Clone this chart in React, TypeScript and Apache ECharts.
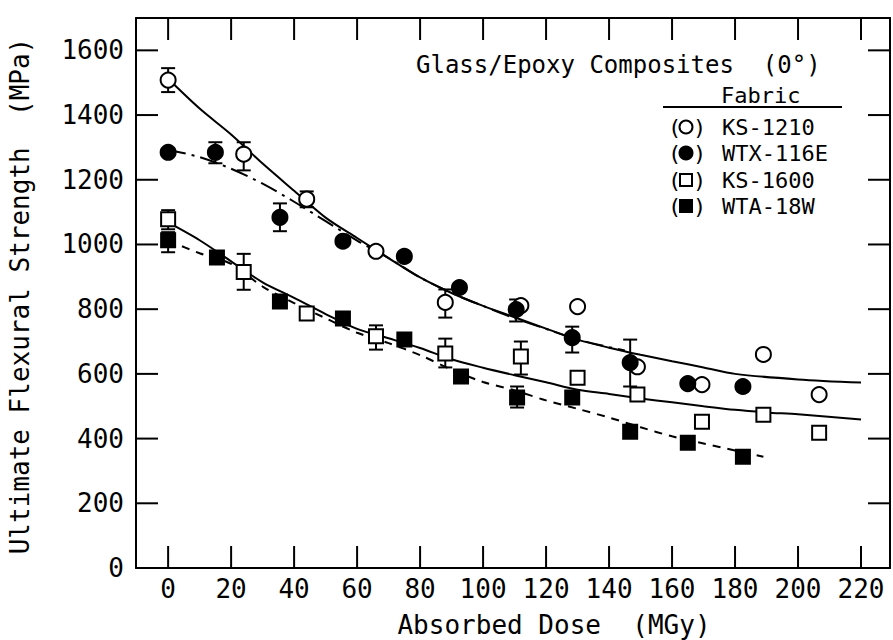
import React, { useEffect, useRef } from "react";
import * as echarts from "echarts";

const FONT = "DejaVu Sans Mono";

const xTicks = [0, 20, 40, 60, 80, 100, 120, 140, 160, 180, 200, 220];
const yTicks = [0, 200, 400, 600, 800, 1000, 1200, 1400, 1600];

// Frame extents (data units)
const xMin = -10.2;
const xMax = 229.2;
const yMin = 0;
const yMax = 1700;

// Measured points [dose, strength]
const ks1210Points = [
  [0, 1508], [24, 1279], [44, 1140], [66, 979], [88, 821], [112, 811],
  [130, 808], [149, 622], [169.5, 567], [189, 660], [206.7, 536],
];
const wtx116ePoints = [
  [0, 1285], [15, 1285], [35.5, 1084], [55.5, 1010], [75, 963], [92.5, 867],
  [110.5, 799], [128.3, 712], [146.7, 635], [165, 570], [182.5, 561],
];
const ks1600Points = [
  [0, 1078], [24, 915], [44, 787], [66, 716], [88, 663], [112, 654],
  [130, 588], [149, 536], [169.5, 452], [189, 474], [206.7, 418],
];
const wta18wPoints = [
  [0, 1013], [15.5, 960], [35.5, 824], [55.5, 771], [75, 706], [93, 592],
  [110.8, 527], [128.3, 527], [146.7, 421], [165, 387], [182.5, 344],
];

// Error bars [dose, low, high]
const ks1210Err = [[0, 1471, 1545], [24, 1229, 1316], [44, 1115, 1164], [88, 774, 861]];
const wtx116eErr = [[15, 1251, 1316], [35.5, 1041, 1127], [110.5, 762, 830], [128.3, 666, 746], [146.7, 561, 706]];
const ks1600Err = [[0, 1047, 1106], [24, 860, 971], [66, 675, 750], [88, 620, 709], [112, 598, 700]];
const wta18wErr = [[0, 976, 1038], [110.8, 496, 561]];

// Fitted curves
const ks1210Curve = [
  [0, 1512], [10, 1420], [20, 1340], [30, 1250], [40, 1166], [50, 1083], [60, 1020],
  [70, 958], [80, 898], [90, 850], [100, 810], [110, 775], [120, 740], [130, 706],
  [140, 681], [150, 659], [160, 639], [170, 620], [180, 600], [200, 583], [220, 573],
];
const wtx116eCurve = [
  [0, 1293], [10, 1270], [20, 1234], [30, 1188], [40, 1132], [50, 1072], [60, 1012],
  [70, 958], [80, 898], [90, 850], [100, 810], [110, 772], [120, 739], [130, 706], [145, 672],
];
const ks1600Curve = [
  [0, 1068], [10, 1013], [20, 948], [30, 883], [40, 835], [50, 785], [60, 739],
  [70, 710], [80, 680], [90, 645], [100, 619], [110, 596], [120, 574], [130, 551],
  [140, 538], [150, 524], [160, 512], [170, 500], [180, 489], [190, 481], [200, 475], [220, 459],
];
const wta18wCurve = [
  [0, 1012], [10, 973], [20, 940], [30, 870], [40, 819], [50, 772], [60, 727],
  [70, 695], [80, 658], [90, 613], [100, 575], [110, 549], [120, 518], [130, 492],
  [140, 465], [150, 435], [160, 407], [170, 385], [180, 363], [189, 344],
];

const legendNames = ["KS-1210", "WTX-116E", "KS-1600", "WTA-18W"];
const titleText = "Glass/Epoxy Composites  (0\u00b0)";
const legendHeader = "Fabric";
const xName = "Absorbed Dose  (MGy)";
const yName = "Ultimate Flexural Strength  (MPa)";

const BLACK = "#000";
const W = 893;
const H = 640;
const TICK_LEN = 22;
const G_LEFT = 136;
const G_RIGHT = 3;
const G_TOP = 18;
const G_BOTTOM = 72;

function errSeries(data: number[][]) {
  return {
    type: "custom",
    data,
    z: 3,
    encode: { x: 0, y: [1, 2] },
    renderItem: (params: any, api: any) => {
      const x = api.value(0);
      const lo = api.coord([x, api.value(1)]);
      const hi = api.coord([x, api.value(2)]);
      const hw = 7;
      return {
        type: "group",
        children: [
          { type: "line", shape: { x1: lo[0], y1: lo[1], x2: hi[0], y2: hi[1] }, style: { stroke: BLACK, lineWidth: 2 } },
          { type: "line", shape: { x1: lo[0] - hw, y1: lo[1], x2: lo[0] + hw, y2: lo[1] }, style: { stroke: BLACK, lineWidth: 2 } },
          { type: "line", shape: { x1: hi[0] - hw, y1: hi[1], x2: hi[0] + hw, y2: hi[1] }, style: { stroke: BLACK, lineWidth: 2 } },
        ],
      };
    },
  };
}

// Inward tick marks on all four frame sides, placed through the axis scales
function tickSeries() {
  const data: number[][] = [];
  xTicks.forEach((v) => data.push([v, yMin, 0]));
  yTicks.forEach((v) => data.push([xMin, v, 1]));
  return {
    type: "custom",
    data,
    z: 20,
    silent: true,
    clip: false,
    encode: { x: 0, y: 1 },
    renderItem: (params: any, api: any) => {
      const kind = api.value(2);
      const st = { stroke: BLACK, lineWidth: 2 };
      if (kind === 0) {
        const v = api.value(0);
        const b = api.coord([v, yMin]);
        const t = api.coord([v, yMax]);
        return {
          type: "group",
          children: [
            { type: "line", shape: { x1: b[0], y1: b[1], x2: b[0], y2: b[1] - TICK_LEN }, style: st },
            { type: "line", shape: { x1: t[0], y1: t[1], x2: t[0], y2: t[1] + TICK_LEN }, style: st },
          ],
        };
      }
      const v = api.value(1);
      const l = api.coord([xMin, v]);
      const r = api.coord([xMax, v]);
      return {
        type: "group",
        children: [
          { type: "line", shape: { x1: l[0], y1: l[1], x2: l[0] + TICK_LEN, y2: l[1] }, style: st },
          { type: "line", shape: { x1: r[0], y1: r[1], x2: r[0] - TICK_LEN, y2: r[1] }, style: st },
        ],
      };
    },
  };
}

function curveSeries(data: number[][], type: any) {
  return {
    type: "line",
    data,
    showSymbol: false,
    smooth: 0.3,
    z: 2,
    lineStyle: { color: BLACK, width: 2, type },
  };
}

function pointSeries(data: number[][], symbol: string, filled: boolean, size: number, z: number) {
  return {
    type: "scatter",
    data,
    symbol,
    symbolSize: size,
    z,
    itemStyle: {
      color: filled ? BLACK : "#fff",
      borderColor: BLACK,
      borderWidth: 2,
      opacity: 1,
    },
  };
}

export default function App() {
  const ref = useRef<HTMLDivElement>(null);
  useEffect(() => {
    if (!ref.current) return;
    const chart = echarts.init(ref.current, undefined, { renderer: "svg" });

    const frameLine = { show: true, onZero: false, lineStyle: { color: BLACK, width: 2 } };
    const labelStyle = { fontFamily: FONT, fontSize: 26, color: BLACK };

    const graphics: any[] = [
      {
        type: "text", x: 554, y: 625,
        style: { text: xName, font: `26px ${FONT}`, fill: BLACK, textAlign: "center", textVerticalAlign: "middle" },
      },
      {
        type: "text", x: 20, y: 296, rotation: Math.PI / 2,
        style: { text: yName, font: `26px ${FONT}`, fill: BLACK, textAlign: "center", textVerticalAlign: "middle" },
      },
      {
        type: "text", x: 416, y: 65,
        style: { text: titleText, font: `24px ${FONT}`, fill: BLACK, textVerticalAlign: "middle" },
      },
      {
        type: "text", x: 721, y: 95,
        style: { text: legendHeader, font: `22px ${FONT}`, fill: BLACK, textVerticalAlign: "middle" },
      },
      {
        type: "line", shape: { x1: 663, y1: 107, x2: 842, y2: 107 },
        style: { stroke: BLACK, lineWidth: 2 },
      },
    ];
    const legendRowsY = [127, 153, 180, 206];
    legendNames.forEach((name, i) => {
      const y = legendRowsY[i];
      graphics.push({
        type: "text", x: 668, y, style: { text: "(", font: `22px ${FONT}`, fill: BLACK, textVerticalAlign: "middle" },
      });
      graphics.push({
        type: "text", x: 693, y, style: { text: ")", font: `22px ${FONT}`, fill: BLACK, textVerticalAlign: "middle" },
      });
      if (i === 0 || i === 1) {
        graphics.push({
          type: "circle", shape: { cx: 686, cy: y, r: 6.5 },
          style: { fill: i === 1 ? BLACK : "#fff", stroke: BLACK, lineWidth: 2 },
        });
      } else {
        graphics.push({
          type: "rect", shape: { x: 680, y: y - 6, width: 12, height: 12 },
          style: { fill: i === 3 ? BLACK : "#fff", stroke: BLACK, lineWidth: 2 },
        });
      }
      graphics.push({
        type: "text", x: 722, y, style: { text: name, font: `22px ${FONT}`, fill: BLACK, textVerticalAlign: "middle" },
      });
    });

    chart.setOption({
      animation: false,
      backgroundColor: "#fff",
      grid: { left: G_LEFT, right: G_RIGHT, top: G_TOP, bottom: G_BOTTOM },
      xAxis: [
        {
          type: "value", min: xMin, max: xMax, position: "bottom",
          axisLine: frameLine, axisTick: { show: false },
          axisLabel: { ...labelStyle, customValues: xTicks, margin: 8, formatter: (v: number) => String(v) },
          splitLine: { show: false },
        },
        {
          type: "value", min: xMin, max: xMax, position: "top",
          axisLine: frameLine, axisTick: { show: false }, axisLabel: { show: false }, splitLine: { show: false },
        },
      ],
      yAxis: [
        {
          type: "value", min: yMin, max: yMax, position: "left",
          axisLine: frameLine, axisTick: { show: false },
          axisLabel: { ...labelStyle, customValues: yTicks, margin: 12, formatter: (v: number) => String(v) },
          splitLine: { show: false },
        },
        {
          type: "value", min: yMin, max: yMax, position: "right",
          axisLine: frameLine, axisTick: { show: false }, axisLabel: { show: false }, splitLine: { show: false },
        },
      ],
      graphic: graphics,
      series: [
        curveSeries(ks1210Curve, "solid"),
        curveSeries(wtx116eCurve, [18, 6, 3, 6]),
        curveSeries(ks1600Curve, "solid"),
        curveSeries(wta18wCurve, [8, 7]),
        errSeries(ks1210Err),
        errSeries(wtx116eErr),
        errSeries(ks1600Err),
        errSeries(wta18wErr),
        pointSeries(ks1210Points, "circle", false, 15, 4),
        pointSeries(wtx116ePoints, "circle", true, 15, 5),
        pointSeries(ks1600Points, "rect", false, 14, 4),
        pointSeries(wta18wPoints, "rect", true, 14, 5),
        tickSeries(),
      ],
    });

    return () => chart.dispose();
  }, []);
  return <div ref={ref} style={{ position: "fixed", left: 0, top: 0, width: W, height: H }} />;
}
